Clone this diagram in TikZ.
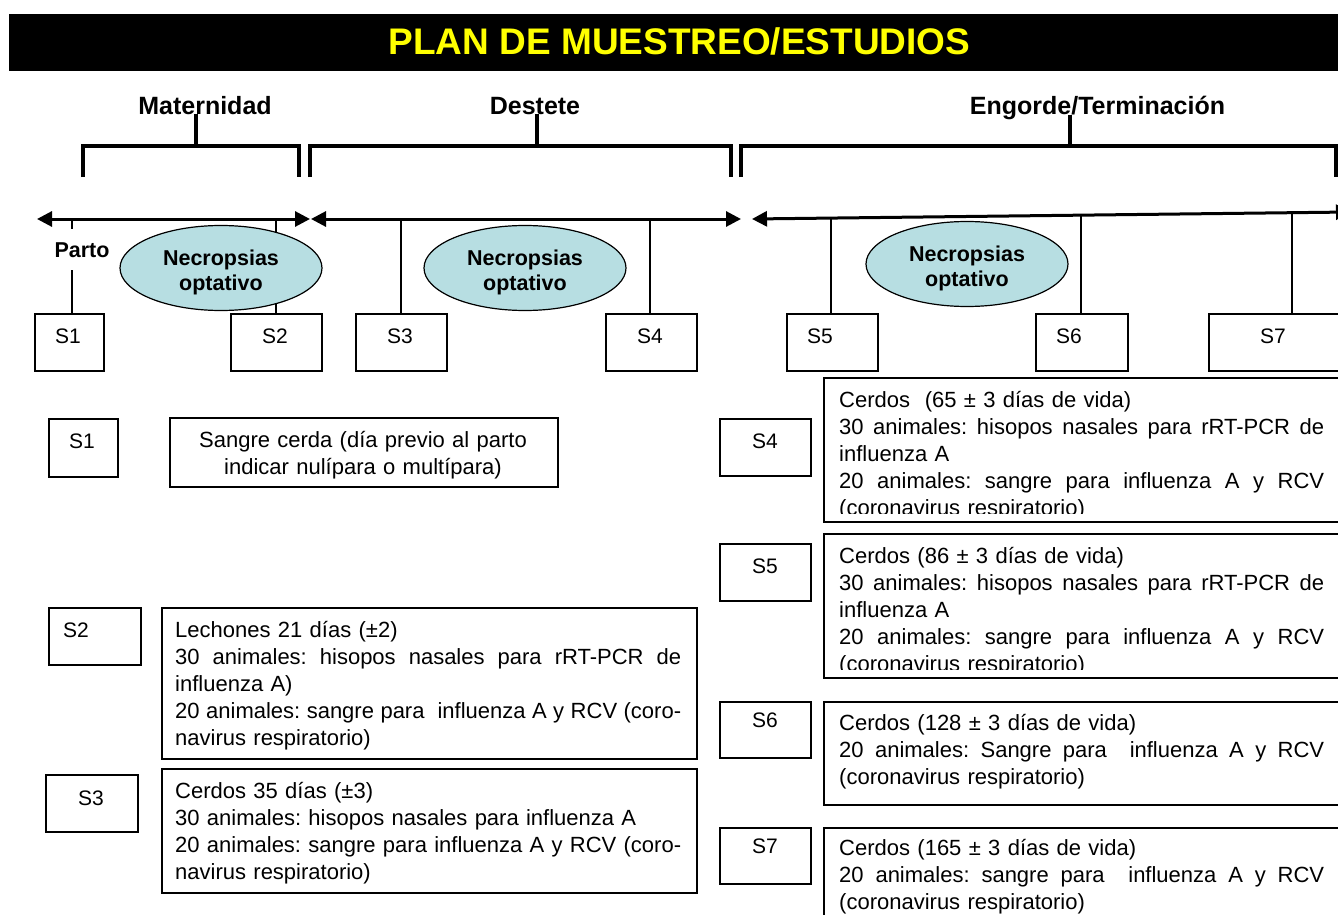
\documentclass[tikz,border=0pt]{standalone}
\usepackage{fontspec}
\setmainfont{Liberation Sans}
\usetikzlibrary{arrows.meta,shapes.geometric}
\definecolor{necro}{HTML}{B7DEE2}
\definecolor{titley}{HTML}{FFFF00}
\newcommand\fBody{\fontsize{22}{27}\selectfont}
\newcommand\fNec{\bfseries\fontsize{21.5}{25}\selectfont}
\newcommand\fPhase{\bfseries\fontsize{25}{28}\selectfont}
\newcommand\fSlab{\fontsize{21}{25}\selectfont}
\newcommand\fTitle{\bfseries\fontsize{37}{40}\selectfont}
\newcommand\jline[2]{{\spaceskip=\fontdimen2\font plus 1fil\xspaceskip=\spaceskip\makebox[#1][s]{#2}}}
\frenchspacing
\begin{document}
\begin{tikzpicture}[x=1pt,y=-1pt,
  box/.style={draw, line width=1.5pt, inner sep=0pt, anchor=north west},
  tick/.style={line width=1.3pt},
  brk/.style={line width=4pt, line cap=butt, line join=miter},
  tl/.style={line width=3pt, {Triangle[length=15pt,width=15pt]}-{Triangle[length=15pt,width=15pt]}},
  nec/.style={ellipse, draw, line width=1.2pt, fill=necro, minimum width=202pt, minimum height=85pt, inner sep=0pt},
  nectxt/.style={font=\fNec, anchor=base, text width=160pt, align=center, inner sep=0pt},
  phase/.style={font=\fPhase, anchor=base, inner sep=0pt},
  slab/.style={font=\fSlab, anchor=base, inner sep=0pt},
  body/.style={font=\fBody, anchor=base west, inner sep=0pt, align=left},
]
\useasboundingbox (0,0) rectangle (1338,915);
\clip (0,0) rectangle (1338,915);

% title
\node[fill=black, anchor=north west, minimum width=1340pt, minimum height=57pt, inner sep=0pt] (bar) at (9,14) {};
\node[font=\fTitle, text=titley, anchor=base, inner sep=0pt] (title) at (679.5,55) {PLAN DE MUESTREO/ESTUDIOS};

% phase labels
\node[phase] (mat) at (205,114) {Maternidad};
\node[phase] (des) at (535,114) {Destete};
\node[phase] (eng) at (1097.5,115) {Engorde/Terminación};

% brackets
\draw[brk] (83,177) -- (83,146) -- (299,146) -- (299,177);
\draw[brk] (310,177) -- (310,146) -- (731,146) -- (731,177);
\draw[brk] (741,177) -- (741,146) -- (1336,146) -- (1336,177);
\coordinate (mb) at (196,146);
\coordinate (db) at (537,146);
\coordinate (eb) at (1070,146);
\draw[brk] (mb |- mat.base) -- (mb);
\draw[brk] (db |- des.base) -- (db);
\draw[brk] (eb |- eng.base) -- (eb);

% timeline arrows
\coordinate (a1l) at (37,219);
\coordinate (a1r) at (310,219);
\coordinate (a2l) at (311,219);
\coordinate (a2r) at (741,219);
\coordinate (a3l) at (752,219);
\coordinate (a3r) at (1351,212);
\draw[tl] (a1l) -- (a1r);
\draw[tl] (a2l) -- (a2r);
\draw[tl] (a3l) -- (a3r);

% top sample boxes
\node[box, minimum width=69pt, minimum height=57pt] (S1) at (34,313) {};
\node[box, minimum width=91pt, minimum height=57pt] (S2) at (230,313) {};
\node[box, minimum width=91pt, minimum height=57pt] (S3) at (355,313) {};
\node[box, minimum width=91pt, minimum height=57pt] (S4) at (605,313) {};
\node[box, minimum width=91pt, minimum height=57pt] (S5) at (786,313) {};
\node[box, minimum width=92pt, minimum height=57pt] (S6) at (1035,313) {};
\node[box, minimum width=150pt, minimum height=57pt] (S7) at (1208,313) {};
\node[slab] (S1t) at (68,343) {S1};
\node[slab] (S2t) at (275,343) {S2};
\node[slab] (S3t) at (400,343) {S3};
\node[slab] (S4t) at (650,343) {S4};
\node[slab] (S5t) at (820,343) {S5};
\node[slab] (S6t) at (1069,343) {S6};
\node[slab] (S7t) at (1273,343) {S7};

% ticks
\coordinate (k1) at (72,219);
\coordinate (k2) at (276,219);
\coordinate (k3) at (401,219);
\coordinate (k4) at (650,219);
\coordinate (k5) at (831,218);
\coordinate (k6) at (1081,215);
\coordinate (k7) at (1292,213);
\draw[tick] (k1) -- (k1 |- S1.north);
\draw[tick] (k2) -- (k2 |- S2.north);
\draw[tick] (k3) -- (k3 |- S3.north);
\draw[tick] (k4) -- (k4 |- S4.north);
\draw[tick] (k5) -- (k5 |- S5.north);
\draw[tick] (k6) -- (k6 |- S6.north);
\draw[tick] (k7) -- (k7 |- S7.north);

\node[font=\fNec, anchor=base, fill=white, text height=15.5pt, text depth=0pt, inner xsep=1pt, inner ysep=13pt] (parto) at (82,257) {Parto};

% necropsias ellipses
\node[nec] (n1) at (221,268) {};
\node[nec] (n2) at (525,268) {};
\node[nec] (n3) at (967,264) {};
\node[nectxt] (n1t) at (221,265) {Necropsias\\optativo};
\node[nectxt] (n2t) at (525,265) {Necropsias\\optativo};
\node[nectxt] (n3t) at (967,261) {Necropsias\\optativo};

% lower left
\node[box, minimum width=69pt, minimum height=58pt] (L1) at (48,418) {};
\node[slab] (L1t) at (82,448) {S1};
\node[box, minimum width=388pt, minimum height=69pt] (B1) at (169,417) {};
\node[font=\fBody, anchor=base, text width=388pt, align=center, inner sep=0pt] (B1t) at (363,447) {Sangre cerda (día previo al parto\\indicar nulípara o multípara)};

\node[box, minimum width=92pt, minimum height=57pt] (L2) at (48,607) {};
\node[slab] (L2t) at (76,637) {S2};
\node[box, minimum width=535pt, minimum height=151pt] (B2) at (161,607) {};
\node[body, text width=507pt] (B2t) at (175,637) {Lechones 21 días (±2)\\
\jline{506pt}{30 animales: hisopos nasales para rRT-PCR de}\\
influenza A)\\
\jline{506pt}{20 animales: sangre para\ \ influenza A y RCV (coro-}\\
navirus respiratorio)};

\node[box, minimum width=92pt, minimum height=57pt] (L3) at (45,774) {};
\node[slab] (L3t) at (91,805) {S3};
\node[box, minimum width=535pt, minimum height=124pt] (B3) at (161,768) {};
\node[body, text width=507pt] (B3t) at (175,798) {Cerdos 35 días (±3)\\
30 animales: hisopos nasales para influenza A\\
\jline{506pt}{20 animales: sangre para influenza A y RCV (coro-}\\
navirus respiratorio)};

% lower right
\node[box, minimum width=91pt, minimum height=57pt] (R4) at (719,418) {};
\node[slab] (R4t) at (765,448) {S4};
\begin{scope}
\clip (823,377) rectangle (1345,513);
\node[body, text width=486pt] (B4t) at (839,407) {Cerdos\ \ (65 ± 3 días de vida)\\
\jline{485pt}{30 animales: hisopos nasales para rRT-PCR de}\\
influenza A\\
\jline{485pt}{20 animales: sangre para influenza A y RCV}\\
(coronavirus respiratorio)};
\end{scope}
\node[box, minimum width=530pt, minimum height=144pt] (B4) at (823,377) {};

\node[box, minimum width=91pt, minimum height=57pt] (R5) at (719,543) {};
\node[slab] (R5t) at (765,573) {S5};
\begin{scope}
\clip (823,533) rectangle (1345,669);
\node[body, text width=486pt] (B5t) at (839,563) {Cerdos (86 ± 3 días de vida)\\
\jline{485pt}{30 animales: hisopos nasales para rRT-PCR de}\\
influenza A\\
\jline{485pt}{20 animales: sangre para influenza A y RCV}\\
(coronavirus respiratorio)};
\end{scope}
\node[box, minimum width=530pt, minimum height=144pt] (B5) at (823,533) {};

\node[box, minimum width=91pt, minimum height=56pt] (R6) at (719,701) {};
\node[slab] (R6t) at (765,727) {S6};
\node[box, minimum width=530pt, minimum height=103pt] (B6) at (823,701) {};
\node[body, text width=486pt] (B6t) at (839,730) {Cerdos (128 ± 3 días de vida)\\
\jline{485pt}{20 animales: Sangre para\ \ influenza A y RCV}\\
(coronavirus respiratorio)};

\node[box, minimum width=91pt, minimum height=56pt] (R7) at (719,827) {};
\node[slab] (R7t) at (765,853) {S7};
\node[box, minimum width=530pt, minimum height=120pt] (B7) at (823,827) {};
\node[body, text width=486pt] (B7t) at (839,855) {Cerdos (165 ± 3 días de vida)\\
\jline{485pt}{20 animales: sangre para\ \ influenza A y RCV}\\
(coronavirus respiratorio)};
\end{tikzpicture}
\end{document}
